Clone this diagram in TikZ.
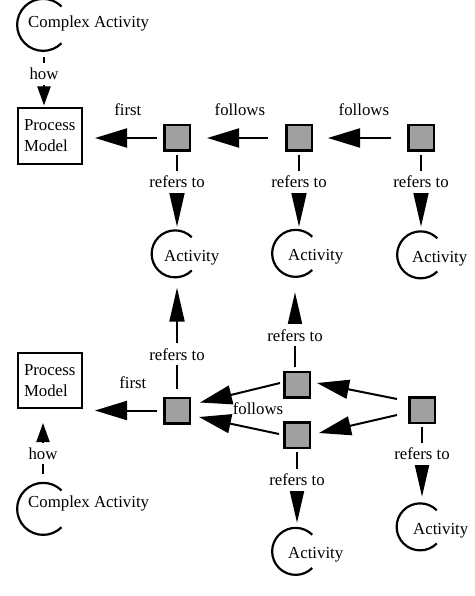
\documentclass[tikz,border=0pt]{standalone}
\usepackage{fontspec}
\setmainfont{Liberation Serif}
\usetikzlibrary{arrows.meta,calc}
\definecolor{sqfill}{HTML}{A0A0A0}
\begin{document}
\begin{tikzpicture}[x=1pt,y=-1pt, font=\fontsize{16.8}{21}\selectfont,
  sq/.style={draw=black, line width=2.5pt, fill=sqfill, minimum size=25.5pt, inner sep=0pt},
  pm/.style={draw, line width=2pt, align=left, text width=52pt, inner xsep=6pt, minimum height=55pt, inner ysep=0pt},
  ringnode/.style={circle, minimum size=#1, inner sep=0pt},
  ringline/.style={line width=2.2pt},
  txt/.style={anchor=base west, inner sep=0pt},
  conn/.style={line width=2pt},
  harr/.style={conn, -{Triangle[length=32pt,width=19pt]}},
  varr/.style={conn, -{Triangle[length=34pt,width=15pt]}},
  sarr/.style={conn, -{Triangle[length=19pt,width=13pt]}},
  lbl/.style={fill=white, inner xsep=1pt, inner ysep=5pt},
  lblup/.style={inner sep=0pt},
]
\useasboundingbox (0,0) rectangle (474,596);

% ---- ring nodes (circles open to the right) ----
\node[ringnode=52pt] (ca1) at (43,25) {};
\node[ringnode=52pt] (ca2) at (43,509) {};
\node[ringnode=47pt] (a1) at (175,254) {};
\node[ringnode=47pt] (a2) at (295.5,253.5) {};
\node[ringnode=47pt] (a3) at (420.5,255) {};
\node[ringnode=47pt] (a4) at (295.5,551.5) {};
\node[ringnode=47pt] (a5) at (420,527) {};
\foreach \n/\r in {ca1/26,ca2/26,a1/23.5,a2/23.5,a3/23.5,a4/23.5,a5/23.5}
  \draw[ringline] (\n.45) arc[start angle=-45, end angle=-315, radius=\r];

\node[txt] (ca1t) at (28,28) {Complex Activity};
\node[txt] (ca2t) at (28,507) {Complex Activity};
\node[txt] (a1t) at (164,261) {Activity};
\node[txt] (a2t) at (288,260.5) {Activity};
\node[txt] (a3t) at (412,262) {Activity};
\node[txt] (a4t) at (288,558.5) {Activity};
\node[txt] (a5t) at (413,534) {Activity};

% ---- process models ----
\node[pm] (pm1) at (50,136) {Process\\Model};
\node[pm] (pm2) at (50,380.5) {Process\\Model};

% ---- squares ----
\node[sq] (s1) at (177,138) {};
\node[sq] (s2) at (299,138) {};
\node[sq] (s3) at (421,138) {};
\node[sq] (l1) at (177,410.5) {};
\node[sq] (m1) at (297,384.5) {};
\node[sq] (m2) at (297,435) {};
\node[sq] (r) at (422,410) {};

% ---- top part ----
\draw[sarr] ($(ca1.south)+(1,6)$) -- node[lbl,pos=0.35]{how} ($(ca1.south |- pm1.north)+(1,-2)$);
\draw[harr] ($(s1.west)+(-6,0)$) -- node[lblup,pos=0.47,yshift=28pt]{first} ($(s1.west -| pm1.east)+(12,0)$);
\draw[harr] ($(s2.west)+(-17,0)$) -- node[lblup,pos=0.46,yshift=28pt]{follows} ($(s1.east)+(16,0)$);
\draw[harr] ($(s3.west)+(-16,0)$) -- node[lblup,pos=0.43,yshift=28pt]{follows} ($(s2.east)+(15,0)$);
\draw[varr] ($(s1.south)+(0,3)$) -- node[lbl,pos=0.375]{refers to} ($(s1.south |- a1.north)+(0,-3.5)$);
\draw[varr] ($(s2.south)+(0,3)$) -- node[lbl,pos=0.375]{refers to} ($(s2.south |- a2.north)+(0,-3)$);
\draw[varr] ($(s3.south)+(0,3)$) -- node[lbl,pos=0.375]{refers to} ($(s3.south |- a3.north)+(0,-4.5)$);

% ---- bottom part ----
\draw[sarr] ($(ca2.north)+(0,-9)$) -- node[lbl,pos=0.40]{how} ($(ca2.north |- pm2.south)+(0,14)$);
\draw[harr] ($(l1.west)+(-6,0)$) -- node[lblup,pos=0.39,yshift=28pt]{first} ($(l1.west -| pm2.east)+(12,0)$);
\draw[varr] ($(l1.north)+(0,-8)$) -- node[lbl,pos=0.34]{refers to} ($(l1.north |- a1.south)+(0,10)$);
\draw[varr] ($(m1.north)+(-2,-4)$) -- node[lbl,pos=0.42]{refers to} ($(m1.north |- a2.south)+(-2,15)$);
\draw[varr] ($(m2.south)+(0,3)$) -- node[lbl,pos=0.39]{refers to} ($(m2.south |- a4.north)+(0,-5)$);
\draw[varr] ($(r.south)+(0,3)$) -- node[lbl,pos=0.386]{refers to} ($(r.south |- a5.north)+(0,-6.5)$);
\draw[harr] ($(r.west)+(-11,-11)$) -- ($(m1.east)+(6,-1.5)$);
\draw[harr] ($(r.west)+(-11,5)$) -- ($(m2.east)+(8,-2)$);
\draw[harr] ($(m1.west)+(-3,-1.5)$) -- node[lblup,pos=0.275,yshift=-20.6pt]{follows} ($(l1.east)+(9,-8)$);
\draw[harr] ($(m2.west)+(-4,-1)$) -- ($(l1.east)+(8,6.5)$);
\end{tikzpicture}
\end{document}
